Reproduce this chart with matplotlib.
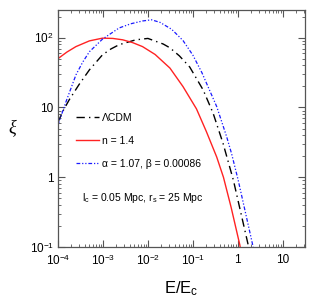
import numpy as np
import matplotlib
matplotlib.use("Agg")
import matplotlib.pyplot as plt
from matplotlib.ticker import FixedLocator, LogLocator, NullFormatter

plt.rcParams["font.family"] = ["Liberation Sans", "DejaVu Sans"]
plt.rcParams["mathtext.fontset"] = "custom"
plt.rcParams["mathtext.rm"] = "Liberation Sans"
plt.rcParams["mathtext.it"] = "Liberation Serif:italic"

# values (log10 E/Ec, log10 xi)
lcdm_logE = [-4.0, -3.88, -3.75, -3.53, -3.30, -3.01, -2.82, -2.64, -2.27, -2.0,
             -1.66, -1.51, -1.30, -1.07, -0.77, -0.55, -0.33, -0.10, 0.23, 0.30]
lcdm_logxi = [0.79, 0.96, 1.11, 1.33, 1.54, 1.755, 1.84, 1.90, 1.97, 1.99,
              1.91, 1.855, 1.74, 1.58, 1.25, 0.918, 0.488, -0.04, -0.97, -1.2]

n14_logE = [-4.0, -3.8, -3.6, -3.3, -3.01, -2.78, -2.56, -2.34, -2.12, -1.84,
            -1.51, -1.22, -0.92, -0.70, -0.47, -0.32, -0.15, 0.044, 0.10]
n14_logxi = [1.70, 1.795, 1.873, 1.955, 1.994, 1.99, 1.97, 1.93, 1.873, 1.76,
             1.565, 1.30, 0.98, 0.655, 0.29, 0.0, -0.43, -0.97, -1.2]

ab_logE = [-4.0, -3.82, -3.6, -3.45, -3.30, -3.01, -2.64, -2.38, -2.12, -1.92,
           -1.73, -1.47, -1.22, -1.0, -0.80, -0.47, -0.25, -0.14, 0.007, 0.33, 0.40]
ab_logxi = [0.75, 1.085, 1.468, 1.65, 1.80, 1.98, 2.14, 2.20, 2.24, 2.257,
            2.22, 2.12, 1.96, 1.75, 1.50, 1.013, 0.583, 0.34, -0.04, -0.97, -1.2]

xticks = [1e-4, 1e-3, 1e-2, 1e-1, 1, 10]
xticklabels = [r"$10^{-4}$", r"$10^{-3}$", r"$10^{-2}$", r"$10^{-1}$", "1", "10"]
yticks = [1e-1, 1, 10, 100]
yticklabels = [r"$10^{-1}$", "1", "10", r"$10^{2}$"]

fig = plt.figure(figsize=(3.15, 3.02), dpi=100)
ax = fig.add_axes([0.184, 0.182, 0.784, 0.785])

ax.plot(10**np.array(lcdm_logE), 10**np.array(lcdm_logxi), color="black", lw=1.0,
        linestyle=(0, (6, 3, 1, 3)), label=r"ΛCDM")
ax.plot(10**np.array(n14_logE), 10**np.array(n14_logxi), color="#ff2222", lw=1.0,
        label="n = 1.4")
ax.plot(10**np.array(ab_logE), 10**np.array(ab_logxi), color="#1a1aff", lw=0.9,
        linestyle=(0, (3, 1.5, 1, 1.5, 1, 1.5)), label=r"α = 1.07, β = 0.00086")

ax.set_xscale("log")
ax.set_yscale("log")
ax.set_xlim(1e-4, 31)
ax.set_ylim(0.1, 250)

ax.xaxis.set_major_locator(FixedLocator(xticks))
ax.set_xticklabels(xticklabels)
ax.yaxis.set_major_locator(FixedLocator(yticks))
ax.set_yticklabels(yticklabels)
ax.xaxis.set_minor_locator(LogLocator(base=10, subs=np.arange(2, 10), numticks=20))
ax.yaxis.set_minor_locator(LogLocator(base=10, subs=np.arange(2, 10), numticks=20))
ax.xaxis.set_minor_formatter(NullFormatter())
ax.yaxis.set_minor_formatter(NullFormatter())

ax.tick_params(which="both", direction="in", top=True, right=True, color="#555555",
               labelsize=8.5)
ax.tick_params(which="major", length=5, width=0.8)
ax.tick_params(which="minor", length=2.5, width=0.6)
ax.tick_params(axis="x", pad=5)
ax.tick_params(axis="y", pad=3)
for s in ax.spines.values():
    s.set_color("#555555")
    s.set_linewidth(0.9)

ax.set_xlabel(r"E/E$_\mathrm{c}$", fontsize=12, labelpad=8)
ax.set_ylabel(r"$\xi$", fontsize=13, rotation=0, labelpad=12, va="center")

ax.legend(loc="upper left", bbox_to_anchor=(0.055, 0.585), frameon=False, fontsize=7.5,
          handlelength=2.2, handletextpad=0.35, labelspacing=1.25, borderaxespad=0)

ax.text(0.097, 0.207, r"l$_\mathrm{c}$ = 0.05 Mpc, r$_\mathrm{s}$ = 25 Mpc",
        transform=ax.transAxes, fontsize=7.5, va="center", ha="left")

fig.savefig("out.png", dpi=100)
